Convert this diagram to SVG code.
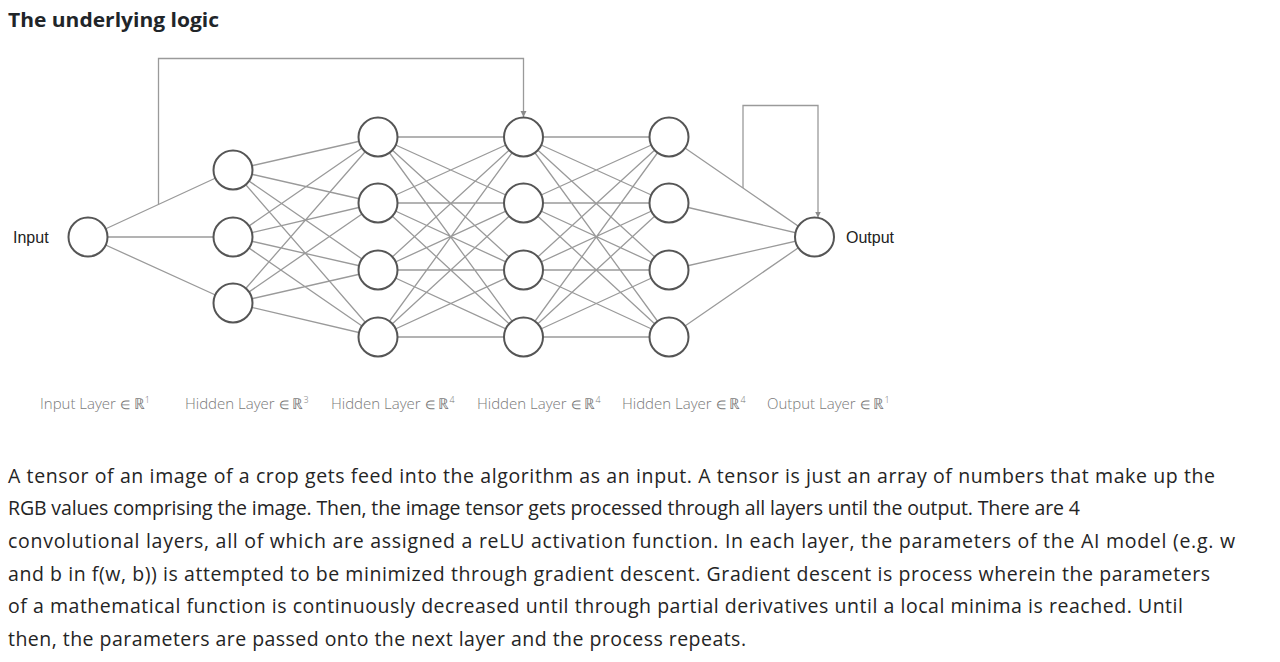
<svg xmlns="http://www.w3.org/2000/svg" width="1280" height="662" viewBox="0 0 1280 662">
<style>
.bg{fill:#ffffff}
.title{font-family:"Open Sans","Liberation Sans",sans-serif;font-weight:700;font-size:20px;fill:#212529}
.conn{fill:none;stroke:#9a9a9a;stroke-width:1.3}
.skip{fill:none;stroke:#9a9a9a;stroke-width:1.3}
.node circle{fill:#ffffff;stroke:#555555;stroke-width:2}
.io{font-family:"Liberation Sans",Arial,sans-serif;font-size:16px;fill:#222222}
.layer{font-family:"Open Sans","DejaVu Sans",sans-serif;font-weight:300;font-size:15px;fill:#7a7a7a}
.el{font-family:"DejaVu Sans",sans-serif;font-size:12px}
.sup{font-size:9px}
.para{font-family:"Open Sans","Noto Sans",sans-serif;font-size:19.5px;fill:#242424}
</style>
<defs>
<marker id="arr" markerUnits="userSpaceOnUse" markerWidth="7" markerHeight="7" refX="6" refY="3" orient="auto">
<path d="M0,0 L6,3 L0,6 z" fill="#8a8a8a"/>
</marker>
</defs>
<rect class="bg" x="0" y="0" width="1280" height="662"/>
<text class="title" x="8" y="27" textLength="211" lengthAdjust="spacingAndGlyphs">The underlying logic</text>

<g id="connectors">
<path class="conn" d="M88 237L233 170M88 237L233 237M88 237L233 303"/>
<path class="conn" d="M233 170L378 137M233 170L378 203M233 170L378 270M233 170L378 337M233 237L378 137M233 237L378 203M233 237L378 270M233 237L378 337M233 303L378 137M233 303L378 203M233 303L378 270M233 303L378 337"/>
<path class="conn" d="M378 137L523.5 137M378 137L523.5 203M378 137L523.5 270M378 137L523.5 337M378 203L523.5 137M378 203L523.5 203M378 203L523.5 270M378 203L523.5 337M378 270L523.5 137M378 270L523.5 203M378 270L523.5 270M378 270L523.5 337M378 337L523.5 137M378 337L523.5 203M378 337L523.5 270M378 337L523.5 337"/>
<path class="conn" d="M523.5 137L669 137M523.5 137L669 203M523.5 137L669 270M523.5 137L669 337M523.5 203L669 137M523.5 203L669 203M523.5 203L669 270M523.5 203L669 337M523.5 270L669 137M523.5 270L669 203M523.5 270L669 270M523.5 270L669 337M523.5 337L669 137M523.5 337L669 203M523.5 337L669 270M523.5 337L669 337"/>
<path class="conn" d="M669 137L814 237M669 203L814 237M669 270L814 237M669 337L814 237"/>
<path class="skip" d="M158.5 204.5V58.5H523.5V117" marker-end="url(#arr)"/>
<path class="skip" d="M743 188V105.5H818V217.5" marker-end="url(#arr)"/>
</g>

<g id="input-node" class="node"><circle cx="88" cy="237" r="19.5"/></g>
<g id="h1-1" class="node"><circle cx="233" cy="170" r="19.5"/></g>
<g id="h1-2" class="node"><circle cx="233" cy="237" r="19.5"/></g>
<g id="h1-3" class="node"><circle cx="233" cy="303" r="19.5"/></g>
<g id="h2-1" class="node"><circle cx="378" cy="137" r="19.5"/></g>
<g id="h2-2" class="node"><circle cx="378" cy="203" r="19.5"/></g>
<g id="h2-3" class="node"><circle cx="378" cy="270" r="19.5"/></g>
<g id="h2-4" class="node"><circle cx="378" cy="337" r="19.5"/></g>
<g id="h3-1" class="node"><circle cx="523.5" cy="137" r="19.5"/></g>
<g id="h3-2" class="node"><circle cx="523.5" cy="203" r="19.5"/></g>
<g id="h3-3" class="node"><circle cx="523.5" cy="270" r="19.5"/></g>
<g id="h3-4" class="node"><circle cx="523.5" cy="337" r="19.5"/></g>
<g id="h4-1" class="node"><circle cx="669" cy="137" r="19.5"/></g>
<g id="h4-2" class="node"><circle cx="669" cy="203" r="19.5"/></g>
<g id="h4-3" class="node"><circle cx="669" cy="270" r="19.5"/></g>
<g id="h4-4" class="node"><circle cx="669" cy="337" r="19.5"/></g>
<g id="output-node" class="node"><circle cx="814.5" cy="237" r="19.5"/></g>

<text class="io" x="13" y="243">Input</text>
<text class="io" x="846" y="243">Output</text>

<g id="layer-labels">
<text class="layer" x="40" y="409">Input Layer <tspan class="el">∈</tspan> ℝ<tspan class="sup" dy="-6">1</tspan></text>
<text class="layer" x="185" y="409">Hidden Layer <tspan class="el">∈</tspan> ℝ<tspan class="sup" dy="-6">3</tspan></text>
<text class="layer" x="331" y="409">Hidden Layer <tspan class="el">∈</tspan> ℝ<tspan class="sup" dy="-6">4</tspan></text>
<text class="layer" x="477" y="409">Hidden Layer <tspan class="el">∈</tspan> ℝ<tspan class="sup" dy="-6">4</tspan></text>
<text class="layer" x="622" y="409">Hidden Layer <tspan class="el">∈</tspan> ℝ<tspan class="sup" dy="-6">4</tspan></text>
<text class="layer" x="767" y="409">Output Layer <tspan class="el">∈</tspan> ℝ<tspan class="sup" dy="-6">1</tspan></text>
</g>

<g id="paragraph">
<text class="para" x="8" y="483" textLength="1207" lengthAdjust="spacing">A tensor of an image of a crop gets feed into the algorithm as an input. A tensor is just an array of numbers that make up the</text>
<text class="para" x="8" y="515" textLength="1072" lengthAdjust="spacing">RGB values comprising the image. Then, the image tensor gets processed through all layers until the output. There are 4</text>
<text class="para" x="8" y="548" textLength="1227" lengthAdjust="spacing">convolutional layers, all of which are assigned a reLU activation function. In each layer, the parameters of the AI model (e.g. w</text>
<text class="para" x="8" y="581" textLength="1202" lengthAdjust="spacing">and b in f(w, b)) is attempted to be minimized through gradient descent. Gradient descent is process wherein the parameters</text>
<text class="para" x="8" y="613" textLength="1175" lengthAdjust="spacing">of a mathematical function is continuously decreased until through partial derivatives until a local minima is reached. Until</text>
<text class="para" x="8" y="646" textLength="738" lengthAdjust="spacing">then, the parameters are passed onto the next layer and the process repeats.</text>
</g>
</svg>
